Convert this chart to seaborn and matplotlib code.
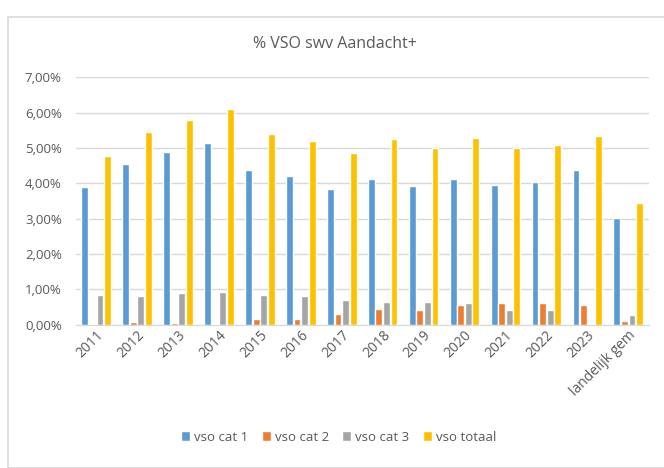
import pandas as pd
import matplotlib.pyplot as plt
import seaborn as sns
from matplotlib.ticker import FuncFormatter, MultipleLocator
from matplotlib.patches import Rectangle

# Categorieën en waarden (in %)
jaren = ['2011', '2012', '2013', '2014', '2015', '2016', '2017', '2018',
         '2019', '2020', '2021', '2022', '2023', 'landelijk gem']
cat1 = [3.89, 4.54, 4.89, 5.13, 4.38, 4.22, 3.84, 4.11, 3.92, 4.11, 3.95, 4.04, 4.38, 3.02]
cat2 = [0.03, 0.08, 0.04, 0.03, 0.15, 0.15, 0.30, 0.46, 0.42, 0.57, 0.61, 0.61, 0.57, 0.10]
cat3 = [0.85, 0.81, 0.90, 0.94, 0.85, 0.81, 0.70, 0.65, 0.65, 0.61, 0.42, 0.42, 0.00, 0.29]
totaal = [4.77, 5.44, 5.78, 6.09, 5.40, 5.20, 4.85, 5.24, 5.00, 5.28, 5.00, 5.08, 5.35, 3.45]
reeksen = ['vso cat 1', 'vso cat 2', 'vso cat 3', 'vso totaal']
kleuren = ['#5B9BD5', '#ED7D31', '#A5A5A5', '#FFC000']

# Tabel in lang formaat voor seaborn
df = pd.DataFrame({'jaar': jaren * 4,
                   'reeks': [r for r in reeksen for _ in jaren],
                   'waarde': cat1 + cat2 + cat3 + totaal})

sns.set_style('white')
plt.rcParams['font.family'] = ['Open Sans', 'DejaVu Sans']

fig = plt.figure(figsize=(6.64, 4.68), dpi=100)
ax = fig.add_axes([0.114, 0.306, 0.863, 0.529])

sns.barplot(data=df, x='jaar', y='waarde', hue='reeks', hue_order=reeksen,
            palette=kleuren, saturation=1, width=0.74, gap=0.1, ax=ax, legend=True)

ax.set_ylim(0, 7)
ax.yaxis.set_major_locator(MultipleLocator(1))
ax.yaxis.set_major_formatter(FuncFormatter(lambda v, p: f'{v:.2f}%'.replace('.', ',')))
ax.grid(axis='y', color='#D9D9D9', linewidth=1)
ax.set_axisbelow(True)
for s in ['top', 'right', 'left']:
    ax.spines[s].set_visible(False)
ax.spines['bottom'].set_color('#D9D9D9')
ax.tick_params(axis='y', length=0, labelsize=9.5, labelcolor='#595959', pad=10)
ax.tick_params(axis='x', length=0, labelsize=10, labelcolor='#595959', pad=2)
plt.setp(ax.get_xticklabels(), rotation=45, ha='right', rotation_mode='anchor')
ax.set_xlabel('')
ax.set_ylabel('')

fig.text(0.505, 0.905, '% VSO swv Aandacht+', ha='center', va='center',
         fontsize=11.5, color='#595959')

handles, labels = ax.get_legend_handles_labels()
ax.legend_.remove()
fig.legend(handles, labels, loc='center', bbox_to_anchor=(0.51, 0.066), ncol=4,
           frameon=False, fontsize=9.5, labelcolor='#595959', handlelength=0.7,
           handleheight=0.7, handletextpad=0.3, columnspacing=1.0)

# Rand van het grafiekgebied
fig.patches.append(Rectangle((0.012, 0.0), 0.99, 0.963, transform=fig.transFigure,
                             fill=False, edgecolor='#D9D9D9', linewidth=1.2))

fig.savefig('out.png', dpi=100)
